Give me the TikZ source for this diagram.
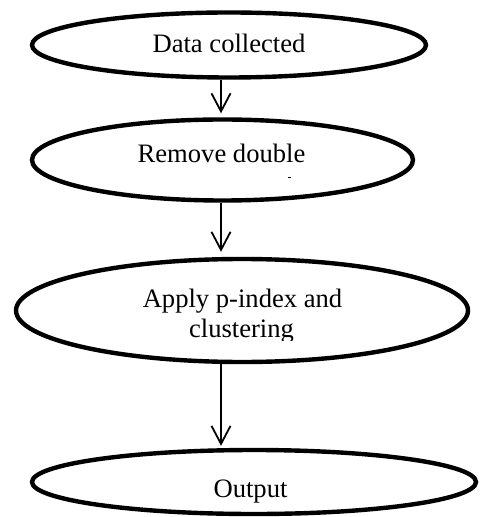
\documentclass[tikz,border=0pt]{standalone}
\usepackage{fontspec}
\setmainfont{Liberation Serif}
\usetikzlibrary{arrows.meta,shapes.geometric}

\tikzset{
  stage/.style={draw, ellipse, line width=2.2pt, inner sep=0pt},
  label/.style={anchor=base, inner sep=0pt, font=\fontsize{13.3}{16}\selectfont},
  flow/.style={line width=0.9pt, -{Straight Barb[length=9pt,width=9.5pt,line width=0.9pt]}}
}

\begin{document}
\begin{tikzpicture}[x=0.5pt, y=-0.5pt]
  \useasboundingbox (0,0) rectangle (479,517);

  % process stages
  \node[stage, minimum width=197pt, minimum height=32.5pt]   (e1) at (229,45) {};
  \node[stage, minimum width=190.5pt, minimum height=40.5pt] (e2) at (222.5,160) {};
  \node[stage, minimum width=226pt, minimum height=51.5pt]   (e3) at (242,310.5) {};
  \node[stage, minimum width=222pt, minimum height=32pt]     (e4) at (254,482) {};

  % stage captions
  \node[label] (t1) at (229,53) {Data collected};
  \node[label] (t2) at (221.5,163) {Remove double};
  \draw[line width=0.6pt] (287.5,177.5) -- (291,177.5);
  \begin{scope}
    \clip (0,0) rectangle (479,340);
    \node[label] (t3) at (242.5,307) {Apply p-index and};
    \node[label] (t4) at (241.5,337) {clustering};
  \end{scope}
  \node[label] (t5) at (250.5,497) {Output};

  % flow between stages
  \coordinate (ax) at (221,0);
  \draw[flow, shorten >=2pt]   (e1.south -| ax) -- (e2.north -| ax);
  \draw[flow, shorten >=2.5pt] (e2.south -| ax) -- (e3.north -| ax);
  \draw[flow, shorten >=1pt]   (e3.south -| ax) -- (e4.north -| ax);
\end{tikzpicture}
\end{document}
